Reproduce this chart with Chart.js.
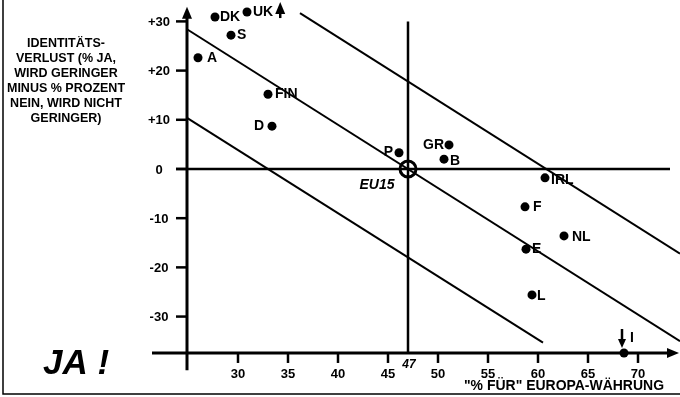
<!DOCTYPE html>
<html>
<head>
<meta charset="utf-8">
<script src="https://cdn.jsdelivr.net/npm/chart.js@4"></script>
<style>
  html, body { margin: 0; padding: 0; background: #fff; }
  #wrap { width: 680px; height: 397px; }
</style>
</head>
<body>
<div id="wrap"><canvas id="chart" width="680" height="397"></canvas></div>
<script>
/* EU currency vs. identity loss scatter */

// countries and their values
const countries    = ['DK', 'UK', 'S', 'A', 'FIN', 'D', 'P', 'GR', 'B', 'IRL', 'F', 'NL', 'E', 'L', 'I'];
const pctFor       = [27.7, 30.9, 29.3, 26.0, 33.0, 33.4, 46.1, 51.1, 50.6, 60.7, 58.7, 62.6, 58.8, 59.4, 68.6];
const identityLoss = [30.9, 31.9, 27.2, 22.6, 15.2, 8.7, 3.3, 4.9, 2.0, -1.8, -7.7, -13.6, -16.3, -25.6, -37.4];

// EU average
const eu15X = [47];
const eu15Y = [0];

// tick labels
const xTicks = [30, 35, 40, 45, 50, 55, 60, 65, 70];
const yTicks = [30, 20, 10, 0, -10, -20, -30];
const yTickLabels = ['+30', '+20', '+10', '0', '-10', '-20', '-30'];

// parallel diagonal guide lines (end points)
const upperLineX = [36.2, 74.2];
const upperLineY = [31.7, -17.2];
const middleLineX = [24.9, 74.2];
const middleLineY = [28.4, -35.0];
const lowerLineX = [24.9, 60.5];
const lowerLineY = [10.4, -35.3];

// cross lines through EU15
const zeroLineX = [23.8, 73.2];
const zeroLineY = [0, 0];
const eu15LineX = [47, 47];
const eu15LineY = [30, -37.4];

// axes placement (data units)
const xAxisAtY = -37.4, xAxisFrom = 21.4, xAxisTo = 74.1;
const yAxisAtX = 24.9,  yAxisFrom = -40.9, yAxisTo = 33.0;

const yTitle = ['IDENTITÄTS-', 'VERLUST (% JA,', 'WIRD GERINGER', 'MINUS % PROZENT', 'NEIN, WIRD NICHT', 'GERINGER)'];
const xTitle = '"% FÜR" EUROPA-WÄHRUNG';

const FONT = '"Liberation Sans", Arial, sans-serif';

// label placement per country: [dx, dy, align, text]
const labelPlace = {
  DK:  [5, 0, 'left', 'DK'],
  UK:  [6, 0, 'left', 'UK'],
  S:   [6, 0, 'left', 'S'],
  A:   [9, 0, 'left', 'A'],
  FIN: [7, 0, 'left', 'FIN'],
  D:   [-8, 0, 'right', 'D'],
  P:   [-6, -1, 'right', 'P'],
  GR:  [-5, 0, 'right', 'GR'],
  B:   [6, 2, 'left', 'B'],
  IRL: [6, 2, 'left', 'IRL'],
  F:   [8, 0, 'left', 'F'],
  NL:  [8, 1, 'left', 'NL'],
  E:   [6, 0, 'left', 'E'],
  L:   [5, 1, 'left', 'L'],
  I:   [6, -15, 'left', 'I']
};

function seg(xs, ys, w) {
  return {
    type: 'scatter',
    data: xs.map((v, i) => ({ x: v, y: ys[i] })),
    showLine: true,
    borderColor: '#000',
    borderWidth: w,
    pointRadius: 0,
    pointHoverRadius: 0
  };
}

function arrowHead(ctx, tx, ty, dir) {
  ctx.beginPath();
  if (dir === 'up') {
    ctx.moveTo(tx, ty); ctx.lineTo(tx - 5, ty + 12); ctx.lineTo(tx + 5, ty + 12);
  } else if (dir === 'down') {
    ctx.moveTo(tx, ty); ctx.lineTo(tx - 4, ty - 9); ctx.lineTo(tx + 4, ty - 9);
  } else {
    ctx.moveTo(tx, ty); ctx.lineTo(tx - 12, ty - 5); ctx.lineTo(tx - 12, ty + 5);
  }
  ctx.closePath();
  ctx.fill();
}

const decor = {
  id: 'decor',
  afterDraw(chart) {
    const { ctx } = chart;
    const sx = chart.scales.x, sy = chart.scales.y;
    const X = v => sx.getPixelForValue(v);
    const Y = v => sy.getPixelForValue(v);
    ctx.save();
    ctx.fillStyle = '#000';
    ctx.strokeStyle = '#000';

    // frame (left + bottom)
    ctx.lineWidth = 1.5;
    ctx.beginPath();
    ctx.moveTo(3, 0); ctx.lineTo(3, 394); ctx.lineTo(680, 394);
    ctx.stroke();

    // axes
    ctx.lineWidth = 3;
    ctx.beginPath();
    ctx.moveTo(X(xAxisFrom), Y(xAxisAtY)); ctx.lineTo(X(xAxisTo) - 6, Y(xAxisAtY));
    ctx.moveTo(X(yAxisAtX), Y(yAxisFrom)); ctx.lineTo(X(yAxisAtX), Y(yAxisTo) + 6);
    ctx.stroke();
    arrowHead(ctx, X(yAxisAtX), Y(yAxisTo), 'up');
    arrowHead(ctx, X(xAxisTo), Y(xAxisAtY), 'right');

    // y ticks
    ctx.lineWidth = 2.5;
    ctx.font = 'bold 13px ' + FONT;
    ctx.textAlign = 'center';
    ctx.textBaseline = 'middle';
    yTicks.forEach((v, i) => {
      const py = Y(v);
      ctx.beginPath();
      ctx.moveTo(X(yAxisAtX) - 11, py); ctx.lineTo(X(yAxisAtX), py);
      ctx.stroke();
      ctx.fillText(yTickLabels[i], X(yAxisAtX) - 28, py + 1);
    });

    // x ticks
    xTicks.forEach(v => {
      const px = X(v);
      ctx.beginPath();
      ctx.moveTo(px, Y(xAxisAtY)); ctx.lineTo(px, Y(xAxisAtY) + 10);
      ctx.stroke();
      ctx.fillText(String(v), px, Y(xAxisAtY) + 21);
    });
    ctx.font = 'italic bold 12px ' + FONT;
    ctx.fillText(String(eu15X[0]), X(eu15X[0]) + 1, Y(xAxisAtY) + 12);

    // axis titles
    ctx.font = 'bold 14px ' + FONT;
    ctx.textAlign = 'right';
    ctx.fillText(xTitle, 664, 386, 200);
    ctx.font = 'bold 12.5px ' + FONT;
    ctx.textAlign = 'center';
    yTitle.forEach((t, i) => ctx.fillText(t, 66, 44 + i * 15));

    // JA !
    ctx.font = 'italic bold 35px ' + FONT;
    ctx.fillText('JA !', 76, 364);

    // country labels
    ctx.font = 'bold 14px ' + FONT;
    countries.forEach((c, i) => {
      const p = labelPlace[c];
      const px = X(pctFor[i]), py = Y(identityLoss[i]);
      ctx.textAlign = p[2];
      ctx.fillText(p[3], px + p[0], py + p[1]);
      if (c === 'UK') {
        const w = ctx.measureText(p[3]).width;
        const ax = px + p[0] + w + 7;
        ctx.lineWidth = 2.5;
        ctx.beginPath(); ctx.moveTo(ax, py + 6); ctx.lineTo(ax, py - 3); ctx.stroke();
        arrowHead(ctx, ax, py - 10, 'up');
      }
      if (c === 'I') {
        const ax = px - 2;
        ctx.lineWidth = 2.5;
        ctx.beginPath(); ctx.moveTo(ax, py - 24); ctx.lineTo(ax, py - 12); ctx.stroke();
        arrowHead(ctx, ax, py - 5, 'down');
      }
    });

    // EU15 label
    ctx.font = 'italic bold 14px ' + FONT;
    ctx.textAlign = 'center';
    ctx.fillText('EU15', X(eu15X[0]) - 31, Y(eu15Y[0]) + 16);

    ctx.restore();
  }
};

new Chart(document.getElementById('chart'), {
  type: 'scatter',
  data: {
    datasets: [
      seg(upperLineX, upperLineY, 2),
      seg(middleLineX, middleLineY, 2),
      seg(lowerLineX, lowerLineY, 2),
      seg(zeroLineX, zeroLineY, 2.5),
      seg(eu15LineX, eu15LineY, 2.5),
      {
        data: pctFor.map((v, i) => ({ x: v, y: identityLoss[i] })),
        pointRadius: 4.5,
        pointBackgroundColor: '#000',
        pointBorderColor: '#000',
        borderWidth: 0
      },
      {
        data: eu15X.map((v, i) => ({ x: v, y: eu15Y[i] })),
        pointRadius: 8,
        pointBackgroundColor: 'rgba(0,0,0,0)',
        pointBorderColor: '#000',
        pointBorderWidth: 3
      }
    ]
  },
  options: {
    responsive: false,
    devicePixelRatio: 1,
    animation: false,
    layout: { padding: 0, autoPadding: false },
    plugins: { legend: { display: false }, tooltip: { enabled: false } },
    scales: {
      x: { type: 'linear', min: 6.2, max: 74.2, display: false },
      y: { type: 'linear', min: -46.35, max: 34.35, display: false }
    },
    clip: false
  },
  plugins: [decor]
});
</script>
</body>
</html>
